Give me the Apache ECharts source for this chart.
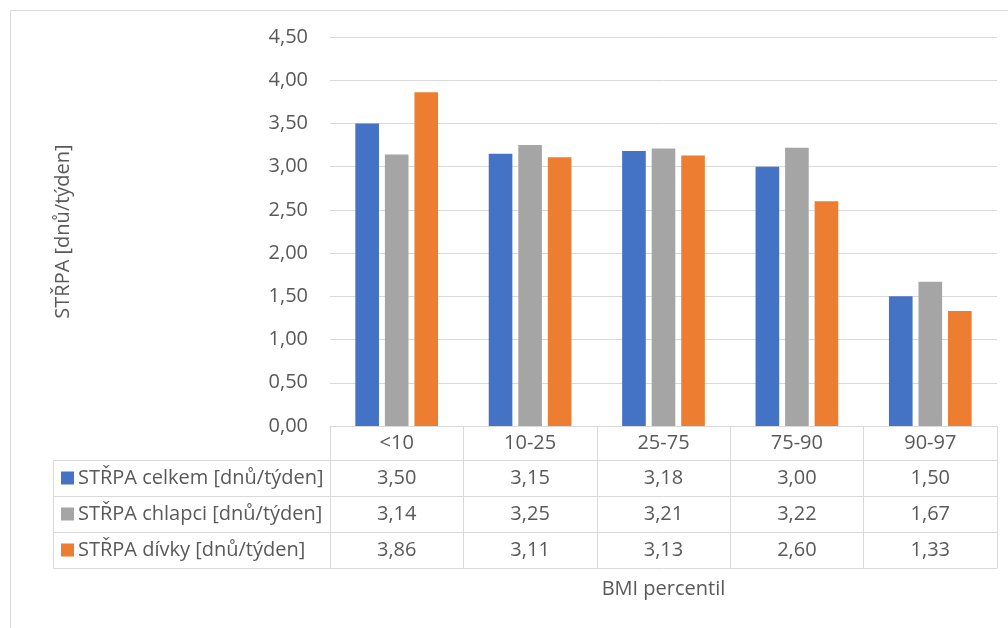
<!DOCTYPE html>
<html>
<head>
<meta charset="utf-8">
<script src="https://cdn.jsdelivr.net/npm/echarts@6/dist/echarts.min.js"></script>
<style>
  html, body { margin: 0; padding: 0; background: #fff; }
  #chart { width: 1008px; height: 628px; }
</style>
</head>
<body>
<div id="chart"></div>
<script>
// data
const categories = ['<10', '10-25', '25-75', '75-90', '90-97'];
const seriesNames = ['STŘPA celkem [dnů/týden]', 'STŘPA chlapci [dnů/týden]', 'STŘPA dívky [dnů/týden]'];
const celkem = [3.50, 3.15, 3.18, 3.00, 1.50];
const chlapci = [3.14, 3.25, 3.21, 3.22, 1.67];
const divky = [3.86, 3.11, 3.13, 2.60, 1.33];
const yTicks = [0, 0.5, 1, 1.5, 2, 2.5, 3, 3.5, 4, 4.5];

const colors = ['#4472C4', '#A5A5A5', '#ED7D31'];
const textColor = '#595959';
const lineColor = '#D9D9D9';
const font = 'Open Sans';
const fs = 20;

const fmt = v => v.toFixed(2).replace('.', ',');

// layout (px)
const gridLeft = 330, gridRight = 997, axisY = 426;
const rowH = [34, 36, 36, 36]; // header + 3 data rows
const tableLeft = 53;

const rowValues = [celkem, chlapci, divky];
let off = 0;
const offsets = rowH.map(h => (off += h));  // 34, 70, 106, 142

function rowAxis(i) {
    const vals = rowValues[i];
    return {
        type: 'category',
        data: categories,
        position: 'bottom',
        offset: offsets[i],
        axisLine: { show: true, lineStyle: { color: lineColor, width: 1 } },
        axisTick: { show: false },
        axisLabel: {
            show: vals !== undefined,
            interval: 0,
            margin: 7,
            color: textColor,
            fontFamily: font,
            fontSize: fs,
            lineHeight: 22,
            formatter: (v, idx) => vals ? fmt(vals[idx]) : ''
        }
    };
}

const chart = echarts.init(document.getElementById('chart'));

const option = {
    animation: false,
    grid: { left: gridLeft, right: 1008 - gridRight, top: 37, bottom: 628 - axisY },
    legend: {
        orient: 'vertical',
        left: 61,
        top: 467,
        padding: 0,
        itemWidth: 13,
        itemHeight: 13,
        itemGap: 14,
        icon: 'rect',
        selectedMode: false,
        data: seriesNames,
        textStyle: { color: textColor, fontFamily: font, fontSize: fs, lineHeight: 22, padding: [0, 0, 0, -1] }
    },
    xAxis: [
        {
            type: 'category',
            data: categories,
            position: 'bottom',
            axisLine: { show: true, lineStyle: { color: lineColor, width: 1 } },
            axisTick: { show: true, length: offsets[3], lineStyle: { color: lineColor, width: 1 } },
            axisLabel: {
                interval: 0, margin: 6, color: textColor, fontFamily: font, fontSize: fs, lineHeight: 22
            },
            name: 'BMI percentil',
            nameLocation: 'middle',
            nameGap: 153,
            nameTextStyle: { color: textColor, fontFamily: font, fontSize: fs }
        },
        rowAxis(0),
        rowAxis(1),
        rowAxis(2),
        rowAxis(3)
    ],
    yAxis: {
        type: 'value',
        min: yTicks[0],
        max: yTicks[yTicks.length - 1],
        interval: 0.5,
        axisLine: { show: false },
        axisTick: { show: false },
        splitLine: { lineStyle: { color: lineColor, width: 1 } },
        axisLabel: {
            margin: 22,
            color: textColor,
            fontFamily: font,
            fontSize: fs,
            formatter: v => fmt(v)
        },
        name: 'STŘPA [dnů/týden]',
        nameLocation: 'middle',
        nameRotate: 90,
        nameGap: 257,
        nameTextStyle: { color: textColor, fontFamily: font, fontSize: fs }
    },
    series: [celkem, chlapci, divky].map((d, i) => ({
        name: seriesNames[i],
        type: 'bar',
        data: d,
        barGap: '25%',
        barCategoryGap: '38%',
        itemStyle: { color: colors[i] }
    })),
    graphic: [
        // outer chart border
        {
            type: 'rect',
            shape: { x: 10.5, y: 10.5, width: 1100, height: 700 },
            style: { fill: 'none', stroke: lineColor, lineWidth: 1 },
            silent: true
        },
        // legend column of the data table
        {
            type: 'rect',
            shape: { x: tableLeft + 0.5, y: axisY + offsets[0] + 0.5, width: gridLeft - tableLeft, height: offsets[3] - offsets[0] },
            style: { fill: 'none', stroke: lineColor, lineWidth: 1 },
            silent: true
        },
        {
            type: 'line',
            shape: { x1: tableLeft, y1: axisY + offsets[1] + 0.5, x2: gridLeft, y2: axisY + offsets[1] + 0.5 },
            style: { stroke: lineColor, lineWidth: 1 },
            silent: true
        },
        {
            type: 'line',
            shape: { x1: tableLeft, y1: axisY + offsets[2] + 0.5, x2: gridLeft, y2: axisY + offsets[2] + 0.5 },
            style: { stroke: lineColor, lineWidth: 1 },
            silent: true
        }
    ]
};

chart.setOption(option);
</script>
</body>
</html>
